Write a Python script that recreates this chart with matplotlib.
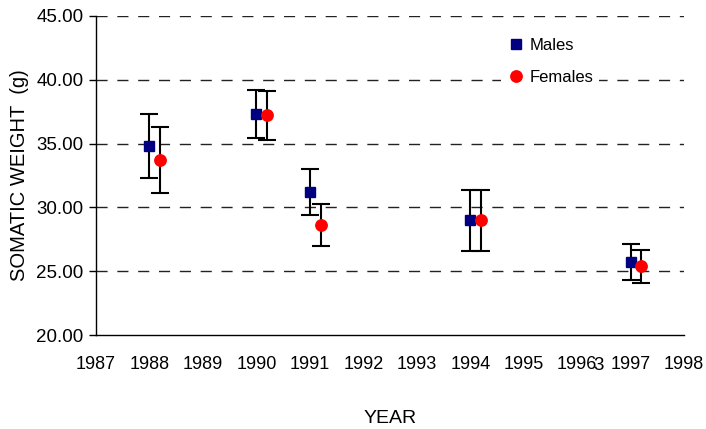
import matplotlib.pyplot as plt
from matplotlib.transforms import blended_transform_factory

plt.rcParams['font.family'] = ['Liberation Sans', 'DejaVu Sans']

# mean somatic weight per year, with error bar half-widths
years_m = [1988, 1990, 1991, 1994, 1997]
males = [34.8, 37.3, 31.2, 29.0, 25.7]
males_err = [2.5, 1.9, 1.8, 2.4, 1.4]

years_f = [1988.2, 1990.2, 1991.2, 1994.2, 1997.2]
females = [33.7, 37.2, 28.6, 29.0, 25.4]
females_err = [2.6, 1.95, 1.65, 2.4, 1.3]

year_ticks = list(range(1987, 1999))
weight_ticks = [20, 25, 30, 35, 40, 45]

fig = plt.figure(figsize=(7.06, 4.29), dpi=100)
ax = fig.add_axes([0.136, 0.219, 0.833, 0.744])

for y in weight_ticks[1:]:
    ax.axhline(y, color='#222222', lw=1.0, ls=(0, (8, 7)), zorder=0)

ekw = dict(fmt='none', ecolor='black', elinewidth=1.5, capsize=6.5, capthick=1.5, zorder=2)
ax.errorbar(years_m, males, yerr=males_err, **ekw)
ax.errorbar(years_f, females, yerr=females_err, **ekw)
ax.plot(years_m, males, 's', color='#000080', ms=7.5, ls='none', label='Males', zorder=3)
ax.plot(years_f, females, 'o', color='#ff0000', ms=8.2, ls='none', label='Females', zorder=3)

ax.set_xlim(1987, 1998)
ax.set_ylim(20, 45)
ax.set_xticks(year_ticks)
ax.set_yticks(weight_ticks)
ax.set_yticklabels(['%.2f' % v for v in weight_ticks])
ax.tick_params(axis='x', length=0, pad=15, labelsize=13)
ax.tick_params(axis='y', length=5, width=1, pad=4, labelsize=13.5)
for s in ['top', 'right']:
    ax.spines[s].set_visible(False)
for s in ['left', 'bottom']:
    ax.spines[s].set_linewidth(1.0)

ax.set_xlabel('YEAR', fontsize=14, labelpad=27)
ax.set_ylabel('SOMATIC WEIGHT  (g)', fontsize=14.5, labelpad=5)

# stray label sitting over the 1996 tick
tr = blended_transform_factory(ax.transData, ax.transAxes)
ax.text(1996.39, -0.096, '3', transform=tr, ha='center', va='center', fontsize=13.5)

leg = ax.legend(loc='upper left', bbox_to_anchor=(0.675, 0.972), frameon=True,
                fontsize=12, handletextpad=0.2, labelspacing=1.0,
                borderpad=0.3, handlelength=1.2)
leg.get_frame().set_facecolor('white')
leg.get_frame().set_edgecolor('none')
leg.get_frame().set_alpha(1)

fig.savefig('out.png', dpi=100)
